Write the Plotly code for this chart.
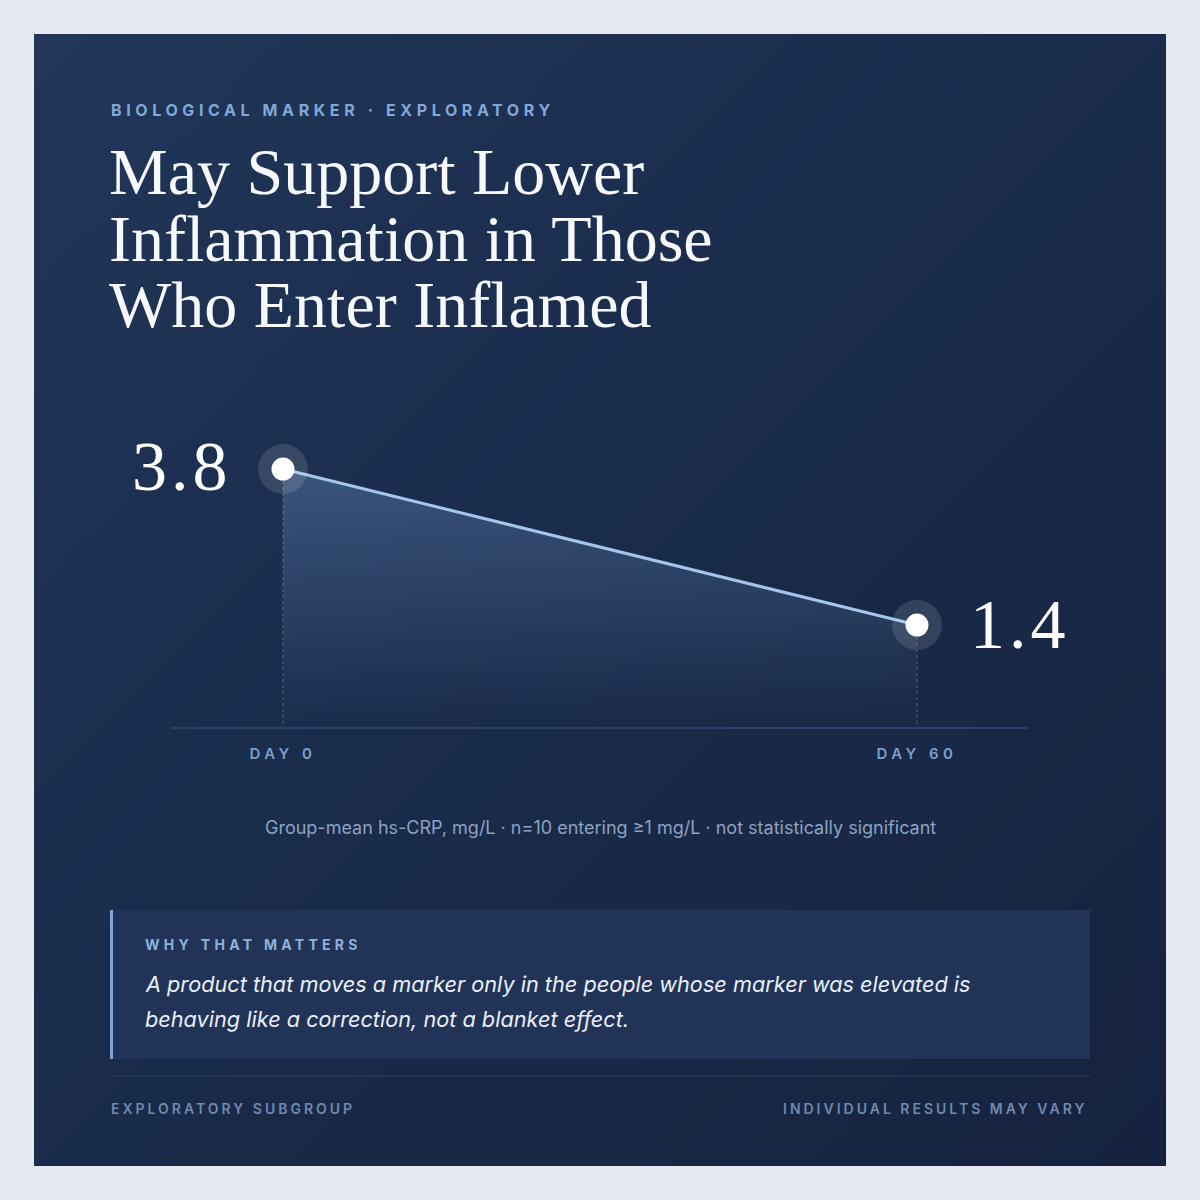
import base64
import json
import struct
import zlib

import numpy as np
import plotly.graph_objects as go

# data
days = [0, 60]
day_labels = ["DAY 0", "DAY 60"]
crp = [3.8, 1.4]
crp_text = ["3.8", "1.4"]

kicker = "BIOLOGICAL MARKER · EXPLORATORY"
title_lines = ["May Support Lower", "Inflammation in Those", "Who Enter Inflamed"]
note = "Group-mean hs-CRP, mg/L · n=10 entering ≥1 mg/L · not statistically significant"
why_label = "WHY THAT MATTERS"
why_lines = ["A product that moves a marker only in the people whose marker was elevated is",
             "behaving like a correction, not a blanket effect."]
foot_left = "EXPLORATORY SUBGROUP"
foot_right = "INDIVIDUAL RESULTS MAY VARY"

W = 1200
SANS = "Inter, 'Noto Sans', sans-serif"
SERIF = "'Liberation Serif', 'DejaVu Serif', serif"


def px(x):
    return x / W


def py(y):
    return 1 - y / W


# card background gradient, drawn into a small png
def gradient_png(n=160):
    stops = np.array([[0.0, 0x21, 0x36, 0x59],
                      [0.45, 0x1a, 0x2c, 0x4c],
                      [1.0, 0x15, 0x23, 0x3f]])
    i, j = np.mgrid[0:n, 0:n]
    t = (i + j) / (2.0 * (n - 1))
    img = np.zeros((n, n, 3), dtype=np.uint8)
    for c in range(3):
        img[..., c] = np.interp(t, stops[:, 0], stops[:, c + 1]).round().astype(np.uint8)
    raw = b"".join(b"\x00" + img[r].tobytes() for r in range(n))

    def chunk(tag, data):
        out = struct.pack(">I", len(data)) + tag + data
        return out + struct.pack(">I", zlib.crc32(tag + data) & 0xffffffff)

    png = (b"\x89PNG\r\n\x1a\n"
           + chunk(b"IHDR", struct.pack(">IIBBBBB", n, n, 8, 2, 0, 0, 0))
           + chunk(b"IDAT", zlib.compress(raw, 9))
           + chunk(b"IEND", b""))
    return "data:image/png;base64," + base64.b64encode(png).decode()


# axis ranges so the points land where they sit in the card
x_lo, x_hi = -10.505, 70.505
y_lo, y_hi = -0.169, 4.554

fig = go.Figure()

# baseline for the area fill
fig.add_trace(go.Scatter(x=days, y=[y_lo] * len(days), mode="lines",
                         line=dict(width=0, color="rgba(0,0,0,0)"),
                         hoverinfo="skip", showlegend=False))
fig.add_trace(go.Scatter(x=days, y=crp, mode="lines", fill="tonexty",
                         fillgradient=dict(type="vertical",
                                           colorscale=[[0, "rgba(130,170,220,0.0)"],
                                                       [1, "rgba(130,170,220,0.30)"]]),
                         line=dict(width=3, color="#a3c6ea"),
                         hoverinfo="skip", showlegend=False))

# dotted drop lines
for d, v in zip(days, crp):
    fig.add_trace(go.Scatter(x=[d, d], y=[v, y_lo], mode="lines",
                             line=dict(width=1.5, color="rgba(120,150,200,0.35)", dash="dot"),
                             hoverinfo="skip", showlegend=False))

# halo + dot
fig.add_trace(go.Scatter(x=days, y=crp, mode="markers",
                         marker=dict(size=50, color="rgba(255,255,255,0.12)", line=dict(width=0)),
                         hoverinfo="skip", showlegend=False))
fig.add_trace(go.Scatter(x=days, y=crp, mode="markers",
                         marker=dict(size=23, color="#ffffff", line=dict(width=0)),
                         hoverinfo="skip", showlegend=False))

annotations = []
spacing = {}


def add_text(text, x, y, size, color, family=SANS, anchor="left", weight=400,
             style="normal", track=0, **kw):
    spacing[len(annotations)] = track
    a = dict(text=text, x=x, y=y, xref=kw.pop("xref", "paper"), yref=kw.pop("yref", "paper"),
             xanchor=anchor, align=anchor, yanchor="middle", showarrow=False, borderpad=0,
             font=dict(family=family, size=size, color=color, weight=weight, style=style))
    a.update(kw)
    annotations.append(a)


add_text(kicker, px(110), py(110), 16, "#80a8d8", weight=700, track=4.6)
for k, line in enumerate(title_lines):
    add_text(line, px(108), py(172 + 66 * k), 66, "#f6f8fb", family=SERIF)

# value labels next to the points
add_text(crp_text[0], days[0], crp[0], 70, "#ffffff", family=SERIF, anchor="right",
         xref="x", yref="y", xshift=-50, yshift=3, track=4)
add_text(crp_text[1], days[1], crp[1], 70, "#ffffff", family=SERIF, anchor="left",
         xref="x", yref="y", xshift=52, yshift=1, track=4)

add_text(note, 0.5, py(828), 18, "#8da2c0", anchor="center")

add_text(why_label, px(144), py(944), 14, "#8eb1da", weight=700, track=4.3)
for k, line in enumerate(why_lines):
    add_text(line, px(144), py(984 + 35 * k), 21.7, "#e9eff8", style="italic")

add_text(foot_left, px(110), py(1108), 14, "#7189ad", weight=600, track=3)
add_text(foot_right, px(1088), py(1108), 14, "#7189ad", weight=600, track=3, anchor="right")

shapes = [
    # callout box and its left rule
    dict(type="rect", xref="paper", yref="paper", x0=px(110), x1=px(1090), y0=py(910), y1=py(1059),
         fillcolor="#213457", line=dict(width=0), layer="below"),
    dict(type="rect", xref="paper", yref="paper", x0=px(110), x1=px(113), y0=py(910), y1=py(1059),
         fillcolor="#7fa6d6", line=dict(width=0), layer="below"),
    # footer divider
    dict(type="line", xref="paper", yref="paper", x0=px(110), x1=px(1090), y0=py(1076), y1=py(1076),
         line=dict(width=1, color="#2b3f62"), layer="below"),
]

fig.update_layout(
    width=1200, height=1200, autosize=False,
    margin=dict(l=0, r=0, t=0, b=0),
    paper_bgcolor="#e6e9ef", plot_bgcolor="rgba(0,0,0,0)",
    images=[dict(source=gradient_png(), xref="paper", yref="paper",
                 x=px(34), y=py(34), sizex=1132 / W, sizey=1132 / W,
                 sizing="stretch", layer="below")],
    shapes=shapes,
    annotations=annotations,
    showlegend=False,
    xaxis=dict(domain=[px(172), px(1028)], range=[x_lo, x_hi], showgrid=False, zeroline=False,
               showline=True, linecolor="#2a4066", linewidth=1.5,
               tickvals=days, ticktext=day_labels, ticks="", ticklabelstandoff=12,
               tickfont=dict(family=SANS, size=15, color="#7d9ec8", weight=600),
               fixedrange=True),
    yaxis=dict(domain=[py(727), py(420)], range=[y_lo, y_hi], visible=False, fixedrange=True),
)

post = """
document.body.style.margin = '0';
var gd = document.getElementById('{plot_id}');
var sp = %s;
gd.querySelectorAll('g.annotation').forEach(function (g) {
  var s = sp[g.getAttribute('data-index')];
  if (s) { g.querySelectorAll('text').forEach(function (t) { t.style.letterSpacing = s + 'px'; }); }
});
gd.querySelectorAll('.xtick text').forEach(function (t) { t.style.letterSpacing = '4.5px'; });
""" % json.dumps({str(k): v for k, v in spacing.items()})

fig.write_html("out.html", config={"displayModeBar": False}, post_script=post)
